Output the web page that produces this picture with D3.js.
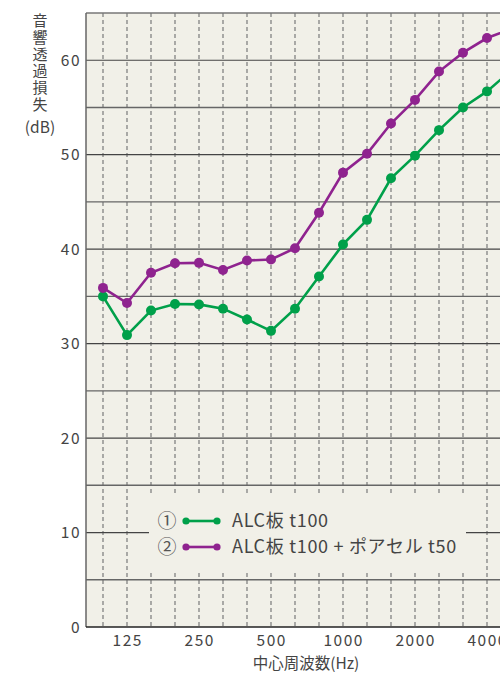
<!DOCTYPE html>
<html><head><meta charset="utf-8">
<script src="https://cdn.jsdelivr.net/npm/d3@7"></script>
<style>html,body{margin:0;padding:0;background:#fff;}svg{display:block;}</style>
</head><body>
<script>
const bands = ["100","125","160","200","250","315","400","500","630","800","1000","1250","1600","2000","2500","3150","4000","5000"];
const alc = [35.0,30.9,33.5,34.2,34.15,33.7,32.55,31.35,33.7,37.1,40.5,43.1,47.5,49.9,52.6,55.0,56.7,58.9];
const alcPoa = [35.9,34.3,37.5,38.5,38.55,37.8,38.8,38.9,40.1,43.85,48.1,50.1,53.3,55.8,58.8,60.8,62.35,63.3];
const xLabels = ["125","250","500","1000","2000","4000"];
const yTicks = [0,10,20,30,40,50,60];
const yMinor = [5,15,25,35,45,55];
const legendItems = [
  {num:"①", label:"ALC板 t100", color:"#00a04a", data:alc},
  {num:"②", label:"ALC板 t100 + ポアセル t50", color:"#8f238f", data:alcPoa}
];

(function(){
const W=500,H=673;
const font = "'Noto Sans CJK JP','Noto Sans',sans-serif";
const svg = d3.select("body").append("svg").attr("width",W).attr("height",H);
const pL=86, pT=13, pB=627, pR=520;
const x = d3.scaleLinear().domain([0,bands.length-1]).range([103,103+24*(bands.length-1)]);
const y = d3.scaleLinear().domain([0,65]).range([pB,pT]);

svg.append("rect").attr("x",pL).attr("y",pT).attr("width",pR-pL).attr("height",pB-pT).attr("fill","#f1f0e8");

// vertical dashed grid
svg.append("g").selectAll("line").data(bands).join("line")
  .attr("x1",(d,i)=>x(i)).attr("x2",(d,i)=>x(i)).attr("y1",pT).attr("y2",pB)
  .attr("stroke","#8a8a8a").attr("stroke-width",1.4).attr("stroke-dasharray","4,3");

// horizontal grid
svg.append("g").selectAll("line").data(yMinor).join("line")
  .attr("x1",pL).attr("x2",pR).attr("y1",d=>y(d)).attr("y2",d=>y(d))
  .attr("stroke","#666").attr("stroke-width",1.4);
svg.append("g").selectAll("line").data(yTicks.filter(d=>d>0)).join("line")
  .attr("x1",pL).attr("x2",pR).attr("y1",d=>y(d)).attr("y2",d=>y(d))
  .attr("stroke","#444").attr("stroke-width",1.2);

// frame
svg.append("line").attr("x1",pL).attr("x2",pR).attr("y1",pT).attr("y2",pT).attr("stroke","#777").attr("stroke-width",1.5);
svg.append("line").attr("x1",pL).attr("x2",pL).attr("y1",pT).attr("y2",pB).attr("stroke","#666").attr("stroke-width",1.5);
svg.append("line").attr("x1",pL).attr("x2",pR).attr("y1",pB).attr("y2",pB).attr("stroke","#222").attr("stroke-width",1.6);

// y axis labels
svg.append("g").selectAll("text").data(yTicks).join("text")
  .attr("x",81).attr("y",d=>y(d)).attr("dy","0.36em").attr("text-anchor","end")
  .attr("letter-spacing",1.5)
  .attr("font-family",font).attr("font-size",15.5).attr("fill","#444").text(d=>d);

// x axis labels
svg.append("g").selectAll("text").data(xLabels).join("text")
  .attr("x",d=>x(bands.indexOf(d))+0.7).attr("y",646).attr("text-anchor","middle")
  .attr("letter-spacing",1.5)
  .attr("font-family",font).attr("font-size",15.5).attr("fill","#444").text(d=>d);
svg.append("text").attr("x",306).attr("y",669).attr("text-anchor","middle")
  .attr("font-family",font).attr("font-size",15.5).attr("fill","#444").text("中心周波数(Hz)");

// y title vertical
svg.append("text").attr("x",40).attr("y",13)
  .style("writing-mode","vertical-rl").attr("letter-spacing",1.7)
  .attr("font-family",font).attr("font-size",15).attr("fill","#444").text("音響透過損失");
svg.append("text").attr("x",40).attr("y",133).attr("text-anchor","middle")
  .attr("font-family",font).attr("font-size",15.5).attr("fill","#444").text("(dB)");

// series
const line = d3.line().x((d,i)=>x(i)).y(d=>y(d));
legendItems.forEach(s=>{
  svg.append("path").datum(s.data).attr("d",line).attr("fill","none")
    .attr("stroke",s.color).attr("stroke-width",2.6);
  svg.append("g").selectAll("circle").data(s.data).join("circle")
    .attr("cx",(d,i)=>x(i)).attr("cy",d=>y(d)).attr("r",5).attr("fill",s.color);
});

// legend
svg.append("rect").attr("x",149).attr("y",494).attr("width",317).attr("height",78).attr("fill","#f1f0e8");
legendItems.forEach((s,i)=>{
  const cy = 521 + i*26;
  svg.append("text").attr("x",167).attr("y",cy).attr("dy","0.36em").attr("text-anchor","middle")
    .attr("font-family",font).attr("font-size",19).attr("fill","#555").text(s.num);
  svg.append("line").attr("x1",186).attr("x2",217).attr("y1",cy).attr("y2",cy).attr("stroke",s.color).attr("stroke-width",2.6);
  svg.append("circle").attr("cx",186).attr("cy",cy).attr("r",3.6).attr("fill",s.color);
  svg.append("circle").attr("cx",217).attr("cy",cy).attr("r",3.6).attr("fill",s.color);
  svg.append("text").attr("x",232).attr("y",cy).attr("dy","0.36em").attr("letter-spacing",0.7)
    .attr("font-family",font).attr("font-size",18).attr("fill","#444").text(s.label);
});
})();
</script>
</body></html>
